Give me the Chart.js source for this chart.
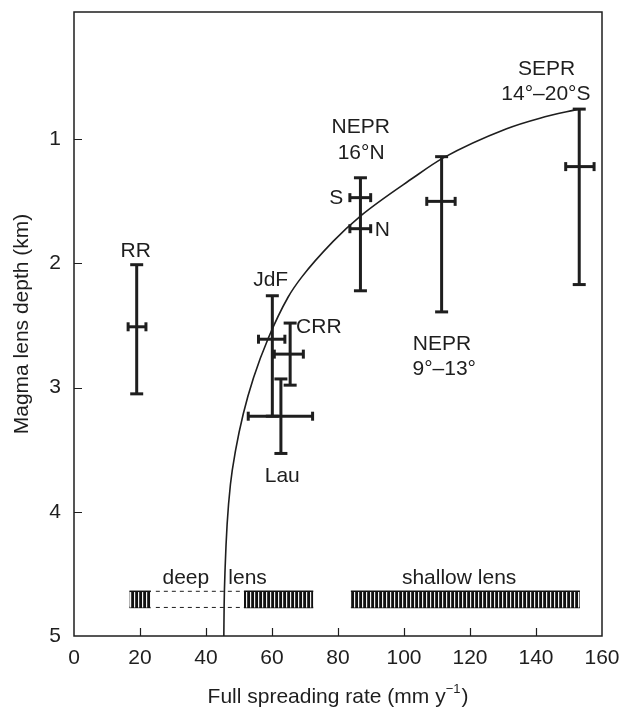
<!DOCTYPE html>
<html>
<head>
<meta charset="utf-8">
<script src="https://cdn.jsdelivr.net/npm/chart.js@4/dist/chart.umd.min.js"></script>
<style>
  html, body { margin: 0; padding: 0; background: #fff; }
  #wrap { width: 619px; height: 709px; }
</style>
</head>
<body>
<div id="wrap"><canvas id="c" width="619" height="709"></canvas></div>
<script>
// Axial magma lens depth against full spreading rate of mid-ocean ridges
const INK = '#1e1e1e';
const FONT = "'Liberation Sans', Arial, Helvetica, sans-serif";
const FONT_SIZE = 21;

const xTicks = [0, 20, 40, 60, 80, 100, 120, 140, 160];
const yTicks = [1, 2, 3, 4, 5];

// depth range of each ridge (vertical bars)
const stemRate   = [19.0, 60.1, 65.5, 62.7, 86.8, 111.4, 153.1];
const stemTop    = [2.01, 2.26, 2.48, 2.93, 1.31, 1.14, 0.757];
const stemBottom = [3.05, 3.23, 2.98, 3.53, 2.22, 2.39, 2.17];

// spreading-rate range at the mean depth (horizontal bars)
const barDepth = [2.51, 2.61, 2.73, 3.23, 1.47, 1.72, 1.50, 1.22];
const barLow   = [16.4, 55.9, 60.7, 52.8, 83.6, 83.6, 106.9, 149.0];
const barHigh  = [21.8, 63.9, 69.5, 72.3, 89.9, 89.9, 115.5, 157.6];

// thermal model curve
const curveRate  = [45.4, 45.5, 45.8, 46.4, 47.4, 49.0, 51.3, 54.4, 58.9, 64.9, 69.0, 78.6, 86.7, 102.8, 111.9, 131.1, 141.2, 153.3];
const curveDepth = [5.00, 4.75, 4.45, 4.10, 3.78, 3.50, 3.21, 2.92, 2.60, 2.27, 2.11, 1.82, 1.62, 1.31, 1.15, 0.915, 0.83, 0.755];

// deep / shallow lens bands
const bandLow  = [16.8, 51.5, 83.9];
const bandHigh = [23.3, 72.5, 153.3];
const bandTop = 4.64;
const bandBottom = 4.77;
const linkRate = [24.8, 51.5];

// annotations (text baseline at depth)
const labelText  = ['RR', 'JdF', 'CRR', 'Lau', 'NEPR', '16°N', 'S', 'N', 'NEPR', '9°–13°', 'SEPR', '14°–20°S', 'deep', 'lens', 'shallow lens'];
const labelRate  = [18.7, 59.6, 74.2, 63.1, 86.9, 87.0, 79.5, 93.4, 111.5, 112.2, 143.2, 143.0, 33.9, 52.6, 116.7];
const labelDepth = [1.946, 2.18, 2.56, 3.76, 0.952, 1.162, 1.52, 1.78, 2.70, 2.90, 0.482, 0.684, 4.58, 4.58, 4.58];

// striped fill for the lens bands
function stripePattern() {
  const tile = document.createElement('canvas');
  tile.width = 4; tile.height = 4;
  const g = tile.getContext('2d');
  g.fillStyle = '#111';
  g.fillRect(0, 0, 4, 4);
  g.fillStyle = '#f4f4f4';
  g.fillRect(2, 0, 1.2, 4);
  return document.createElement('canvas').getContext('2d').createPattern(tile, 'repeat');
}
const stripes = stripePattern();

const datasets = [];

datasets.push({
  data: curveRate.map((r, i) => ({ x: r, y: curveDepth[i] })),
  showLine: true, borderColor: INK, borderWidth: 1.6,
  cubicInterpolationMode: 'monotone', pointRadius: 0, fill: false
});

bandLow.forEach((lo, i) => {
  datasets.push({
    data: [{ x: lo, y: bandTop }, { x: bandHigh[i], y: bandTop }],
    showLine: true, borderColor: '#111', borderWidth: 1.5, pointRadius: 0,
    fill: '+1', backgroundColor: stripes
  });
  datasets.push({
    data: [{ x: lo, y: bandBottom }, { x: bandHigh[i], y: bandBottom }],
    showLine: true, borderColor: '#111', borderWidth: 1.5, pointRadius: 0, fill: false
  });
});

[bandTop, bandBottom].forEach(d => {
  datasets.push({
    data: linkRate.map(r => ({ x: r, y: d })),
    showLine: true, borderColor: INK, borderWidth: 1, borderDash: [4, 4],
    pointRadius: 0, fill: false
  });
});

stemRate.forEach((r, i) => {
  datasets.push({
    data: [{ x: r, y: stemTop[i] }, { x: r, y: stemBottom[i] }],
    showLine: true, borderColor: INK, borderWidth: 3, borderCapStyle: 'butt',
    pointStyle: 'line', pointRadius: 6.5, pointBorderWidth: 3,
    pointBorderColor: INK, fill: false
  });
});

barDepth.forEach((d, i) => {
  datasets.push({
    data: [{ x: barLow[i], y: d }, { x: barHigh[i], y: d }],
    showLine: true, borderColor: INK, borderWidth: 3, borderCapStyle: 'butt',
    pointStyle: 'line', pointRotation: 90, pointRadius: 4.5, pointBorderWidth: 3,
    pointBorderColor: INK, fill: false
  });
});

const decor = {
  id: 'decor',
  afterDatasetsDraw(chart) {
    const { ctx, scales: { x, y } } = chart;
    ctx.save();
    ctx.fillStyle = INK;
    ctx.font = FONT_SIZE + 'px ' + FONT;
    ctx.textAlign = 'center';
    ctx.textBaseline = 'alphabetic';
    labelText.forEach((t, i) => {
      ctx.fillText(t, x.getPixelForValue(labelRate[i]), y.getPixelForValue(labelDepth[i]));
    });
    ctx.restore();
  },
  afterDraw(chart) {
    const { ctx, chartArea: a, scales: { x, y } } = chart;
    ctx.save();
    ctx.strokeStyle = INK;
    ctx.lineWidth = 1.5;
    ctx.strokeRect(a.left, a.top, a.right - a.left, a.bottom - a.top);
    ctx.lineWidth = 1.2;
    ctx.beginPath();
    x.ticks.forEach(t => {
      if (t.value <= x.min || t.value >= x.max) return;
      const px = Math.round(x.getPixelForValue(t.value)) + 0.5;
      ctx.moveTo(px, a.bottom);
      ctx.lineTo(px, a.bottom - 8);
    });
    y.ticks.forEach(t => {
      if (t.value >= y.max) return;
      const py = Math.round(y.getPixelForValue(t.value)) + 0.5;
      ctx.moveTo(a.left, py);
      ctx.lineTo(a.left + 8, py);
    });
    ctx.stroke();

    // x-axis title with superscript exponent
    const main = 'Full spreading rate (mm y';
    const sup = '\u22121';
    const close = ')';
    const bigFont = FONT_SIZE + 'px ' + FONT;
    const smallFont = '13px ' + FONT;
    ctx.font = bigFont;
    const w1 = ctx.measureText(main).width;
    const w3 = ctx.measureText(close).width;
    ctx.font = smallFont;
    const w2 = ctx.measureText(sup).width;
    const total = w1 + w2 + w3 + 1;
    let cx = (a.left + a.right) / 2 - total / 2;
    const base = 703;
    ctx.fillStyle = INK;
    ctx.textAlign = 'left';
    ctx.textBaseline = 'alphabetic';
    ctx.font = bigFont;
    ctx.fillText(main, cx, base);
    cx += w1;
    ctx.font = smallFont;
    ctx.fillText(sup, cx, base - 10);
    cx += w2 + 1;
    ctx.font = bigFont;
    ctx.fillText(close, cx, base);
    ctx.restore();
  }
};

new Chart(document.getElementById('c'), {
  type: 'scatter',
  data: { datasets },
  options: {
    responsive: false,
    animation: false,
    events: [],
    layout: { padding: { top: 12, right: 17, left: 0, bottom: 0 } },
    plugins: { legend: { display: false }, tooltip: { enabled: false } },
    scales: {
      x: {
        type: 'linear', min: 0, max: 160,
        afterBuildTicks: s => { s.ticks = xTicks.map(v => ({ value: v })); },
        afterFit: s => { s.height = 73; s.paddingLeft = 0; s.paddingRight = 0; },
        grid: { display: false, drawTicks: false },
        border: { display: false },
        ticks: { padding: 10, color: INK, font: { family: FONT, size: FONT_SIZE } }
      },
      y: {
        type: 'linear', reverse: true, min: -0.025, max: 5,
        afterBuildTicks: s => { s.ticks = yTicks.map(v => ({ value: v })); },
        afterFit: s => { s.width = 74; s.paddingTop = 0; s.paddingBottom = 0; },
        grid: { display: false, drawTicks: false },
        border: { display: false },
        ticks: { padding: 13, color: INK, font: { family: FONT, size: FONT_SIZE } },
        title: {
          display: true, text: 'Magma lens depth (km)', color: INK,
          font: { family: FONT, size: FONT_SIZE }, padding: { top: 10, bottom: 0 }
        }
      }
    }
  },
  plugins: [decor]
});
</script>
</body>
</html>
